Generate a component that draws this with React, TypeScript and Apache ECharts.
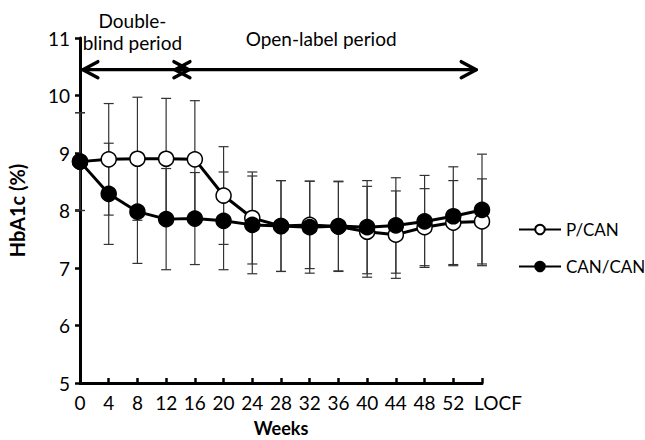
import React, { useEffect, useRef } from "react";
import * as echarts from "echarts";

// Study visits (weeks) plus last-observation-carried-forward
const weeks = ["0", "4", "8", "12", "16", "20", "24", "28", "32", "36", "40", "44", "48", "52", "LOCF"];

// Mean HbA1c (%) and SD per visit
const pCanMean = [8.85, 8.89, 8.9, 8.9, 8.89, 8.26, 7.87, 7.73, 7.75, 7.72, 7.63, 7.58, 7.71, 7.79, 7.81];
const pCanSd = [0.85, 0.97, 1.07, 1.05, 1.02, 0.85, 0.8, 0.79, 0.76, 0.78, 0.79, 0.76, 0.67, 0.73, 0.74];
const canCanMean = [8.85, 8.29, 7.98, 7.85, 7.86, 7.82, 7.75, 7.73, 7.71, 7.73, 7.71, 7.74, 7.81, 7.9, 8.01];
const canCanSd = [0.85, 0.88, 0.9, 0.88, 0.8, 0.85, 0.85, 0.79, 0.8, 0.78, 0.81, 0.83, 0.8, 0.86, 0.97];

const yTicks = [5, 6, 7, 8, 9, 10, 11];

// Period annotation: arrow level (HbA1c units) and span (category positions)
const periodArrowLevel = 10.45;
const periodStart = 0.1;
const periodSwitch = 3.55;
const periodEnd = 13.8;

const FONT = "Lato, 'Liberation Sans', sans-serif";
const FS = 19;

function errorBars(mean: number[], sd: number[]) {
  return mean.map((m, i) => [i, m - sd[i], m + sd[i]]);
}

const renderErrorBar = (params: any, api: any) => {
  const i = api.value(0);
  const lo = api.coord([i, api.value(1)]);
  const hi = api.coord([i, api.value(2)]);
  const half = 5;
  const style = { stroke: "#333", lineWidth: 1.2 };
  return {
    type: "group",
    children: [
      { type: "line", shape: { x1: hi[0], y1: hi[1], x2: lo[0], y2: lo[1] }, style },
      { type: "line", shape: { x1: hi[0] - half, y1: hi[1], x2: hi[0] + half, y2: hi[1] }, style },
      { type: "line", shape: { x1: lo[0] - half, y1: lo[1], x2: lo[0] + half, y2: lo[1] }, style },
    ],
  };
};

export default function App() {
  const ref = useRef<HTMLDivElement>(null);

  useEffect(() => {
    if (!ref.current) return;
    const chart = echarts.init(ref.current, null, { renderer: "svg" });

    const option: any = {
      animation: false,
      backgroundColor: "#fff",
      textStyle: { fontFamily: FONT },
      grid: {
        left: 80,
        right: 163,
        top: 38,
        bottom: 57,
        containLabel: false,
        outerBoundsMode: "none",
      },
      legend: {
        orient: "vertical",
        left: 518,
        top: 221,
        padding: 0,
        itemWidth: 42,
        itemHeight: 12,
        itemGap: 20,
        data: ["P/CAN", "CAN/CAN"],
        textStyle: { fontFamily: FONT, fontSize: 17, color: "#000" },
      },
      xAxis: {
        type: "category",
        data: weeks,
        boundaryGap: false,
        name: "Weeks",
        nameLocation: "middle",
        nameGap: 36,
        nameTextStyle: { fontFamily: FONT, fontSize: 18, fontWeight: "bold", color: "#000" },
        axisLine: { lineStyle: { color: "#000", width: 3 } },
        axisTick: { inside: true, length: 5, alignWithLabel: true, lineStyle: { color: "#000", width: 2.5 } },
        axisLabel: {
          fontFamily: FONT,
          fontSize: FS,
          color: "#000",
          margin: 10,
          interval: 0,
          formatter: (v: string) => (v === weeks[weeks.length - 1] ? `{end|${v}}` : v),
          rich: { end: { fontFamily: FONT, fontSize: FS, color: "#000", padding: [0, 0, 0, 32] } },
        },
        splitLine: { show: false },
      },
      yAxis: {
        type: "value",
        min: yTicks[0],
        max: yTicks[yTicks.length - 1],
        interval: 1,
        name: "HbA1c (%)",
        nameLocation: "middle",
        nameGap: 53,
        nameTextStyle: { fontFamily: FONT, fontSize: 20, fontWeight: "bold", color: "#000" },
        axisLine: { show: true, lineStyle: { color: "#000", width: 3 } },
        axisTick: { show: true, length: 5, lineStyle: { color: "#000", width: 2.5 } },
        axisLabel: { fontFamily: FONT, fontSize: FS, color: "#000", margin: 10 },
        splitLine: { show: false },
      },
      series: [
        {
          name: "P/CAN SD",
          type: "custom",
          renderItem: renderErrorBar,
          data: errorBars(pCanMean, pCanSd),
          z: 1,
          silent: true,
        },
        {
          name: "CAN/CAN SD",
          type: "custom",
          renderItem: renderErrorBar,
          data: errorBars(canCanMean, canCanSd),
          z: 1,
          silent: true,
        },
        {
          name: "P/CAN",
          type: "line",
          data: pCanMean,
          symbol: "circle",
          symbolSize: 15,
          lineStyle: { color: "#000", width: 3 },
          itemStyle: { color: "#fff", borderColor: "#000", borderWidth: 1.5 },
          z: 3,
        },
        {
          name: "CAN/CAN",
          type: "line",
          data: canCanMean,
          symbol: "circle",
          symbolSize: 15,
          lineStyle: { color: "#000", width: 3 },
          itemStyle: { color: "#000", borderColor: "#000", borderWidth: 1.5 },
          z: 4,
        },
      ],
    };

    chart.setOption(option);

    // Period arrows placed from the axes' own scales
    const p0 = chart.convertToPixel({ gridIndex: 0 }, [0, periodArrowLevel]) as number[];
    const p1 = chart.convertToPixel({ gridIndex: 0 }, [1, periodArrowLevel]) as number[];
    const step = p1[0] - p0[0];
    const y = p0[1];
    const xa = p0[0] + step * periodStart;
    const xm = p0[0] + step * periodSwitch;
    const xb = p0[0] + step * periodEnd;
    const hx = 15;
    const hy = 8;
    const arrowStyle = {
      stroke: "#000",
      lineWidth: 3.4,
      fill: null,
      lineCap: "round",
      lineJoin: "round",
    };

    chart.setOption({
      graphic: [
        { type: "polyline", shape: { points: [[xa, y], [xb, y]] }, style: arrowStyle },
        { type: "polyline", shape: { points: [[xa + hx, y - hy], [xa, y], [xa + hx, y + hy]] }, style: arrowStyle },
        { type: "polyline", shape: { points: [[xm - hx + 7, y - hy], [xm + 7, y], [xm - hx + 7, y + hy]] }, style: arrowStyle },
        { type: "polyline", shape: { points: [[xm + hx - 7, y - hy], [xm - 7, y], [xm + hx - 7, y + hy]] }, style: arrowStyle },
        { type: "polyline", shape: { points: [[xb - hx, y - hy], [xb, y], [xb - hx, y + hy]] }, style: arrowStyle },
        {
          type: "text",
          x: (xa + xm) / 2,
          y: y - 60,
          style: {
            text: "Double-\nblind period",
            fontFamily: FONT,
            fontSize: FS,
            lineHeight: 22,
            fill: "#000",
            align: "center",
            verticalAlign: "top",
          },
        },
        {
          type: "text",
          x: (xm + xb) / 2 - 8,
          y: y - 41,
          style: {
            text: "Open-label period",
            fontFamily: FONT,
            fontSize: FS,
            fill: "#000",
            align: "center",
            verticalAlign: "top",
          },
        },
      ],
    });

    return () => chart.dispose();
  }, []);

  return (
    <div
      ref={ref}
      style={{ position: "fixed", left: 0, top: 0, width: 645, height: 440, background: "#fff" }}
    />
  );
}
